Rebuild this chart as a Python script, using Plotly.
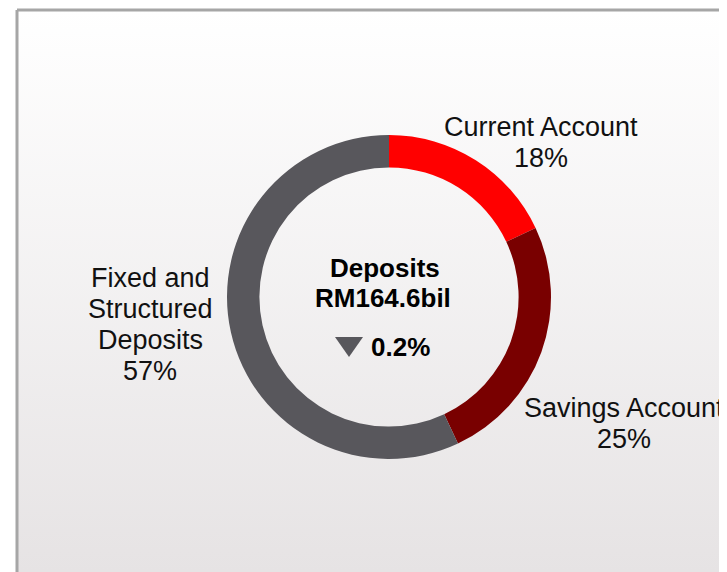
import plotly.graph_objects as go

# deposit mix
labels = ["Current Account", "Savings Account", "Fixed and<br>Structured<br>Deposits"]
shares = [18, 25, 57]
colors = ["#ff0000", "#790000", "#58575c"]

total_title = "Deposits"
total_value = "RM164.6bil"
change = "0.2%"

# page is 727x572 but the html body has an 8px margin, so the figure is smaller
# and the hidden axes are set up so that data units == page pixels
PAD = 8
W, H = 727 - PAD, 572 - PAD
cx, cy, r = 389, 297, 162          # donut centre / outer radius in page px

# where each outside label starts (centre x, first baseline y)
label_pos = [(541, 136), (624, 417), (150, 287)]
line_gap = 31
font_reg = dict(family="Liberation Sans, Arial", size=27, color="#111111")
font_bold = dict(family="Liberation Sans, Arial", size=26, color="#000000")

fig = go.Figure()

# background panel with grey frame and soft vertical gradient
fig.add_trace(go.Scatter(
    x=[17, 760, 760, 17, 17], y=[10, 10, 620, 620, 10],
    mode="lines", fill="toself",
    fillgradient=dict(type="vertical", start=10, stop=572,
                      colorscale=[[0, "#ffffff"], [1, "#e6e3e4"]]),
    line=dict(color="#a6a6a6", width=3),
    hoverinfo="skip", showlegend=False,
))


def to_paper_x(px):
    return (px - PAD) / W


def to_paper_y(py):
    return 1 - (py - PAD) / H


fig.add_trace(go.Pie(
    labels=[l.replace("<br>", " ") for l in labels],
    values=shares,
    marker=dict(colors=colors, line=dict(width=0)),
    hole=0.8,
    sort=False,
    direction="clockwise",
    rotation=0,
    textinfo="none",
    hoverinfo="label+percent",
    showlegend=False,
    domain=dict(x=[to_paper_x(cx - r), to_paper_x(cx + r)],
                y=[to_paper_y(cy + r), to_paper_y(cy - r)]),
))


def text_line(x, baseline, txt, font):
    fig.add_annotation(x=x, y=baseline - 0.35 * font["size"], xref="x", yref="y",
                       text=txt, showarrow=False, font=font,
                       xanchor="center", yanchor="middle", borderpad=0)


for (x, y0), lab, s in zip(label_pos, labels, shares):
    lines = lab.split("<br>") + [f"{s}%"]
    for i, ln in enumerate(lines):
        text_line(x, y0 + i * line_gap, ln, font_reg)

text_line(385, 277, f"<b>{total_title}</b>", font_bold)
text_line(383, 307, f"<b>{total_value}</b>", font_bold)
text_line(400, 356, f"<b>{change}</b>", font_bold)

# down arrow next to the change figure
fig.add_shape(type="path", xref="x", yref="y",
              path="M335,337 L363,337 L349,357 Z",
              fillcolor="#58575c", line=dict(width=0))

fig.update_layout(
    width=W, height=H,
    margin=dict(l=0, r=0, t=0, b=0),
    paper_bgcolor="white", plot_bgcolor="white",
    xaxis=dict(range=[PAD, PAD + W], visible=False, fixedrange=True),
    yaxis=dict(range=[PAD + H, PAD], visible=False, fixedrange=True),
)

fig.write_html("out.html")
